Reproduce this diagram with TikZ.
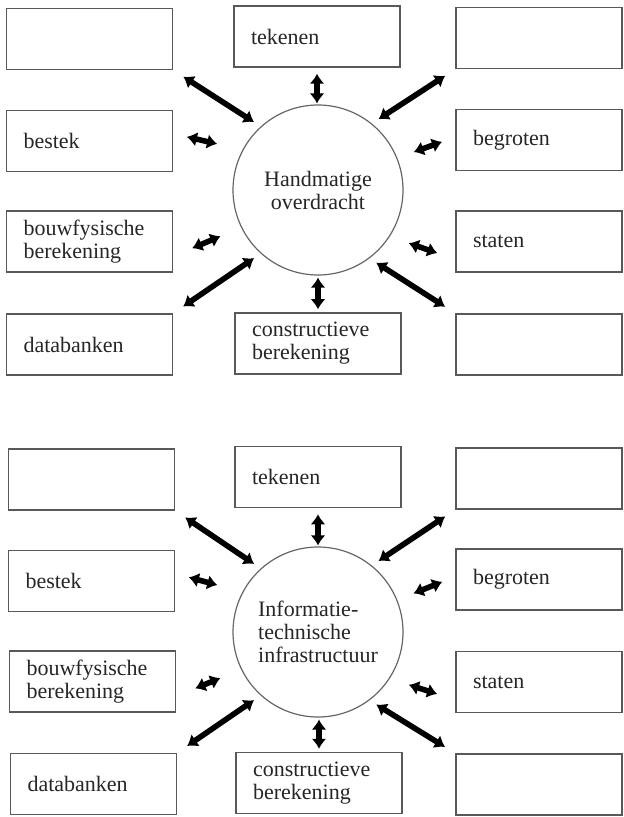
\documentclass[tikz,border=0pt]{standalone}
\usepackage{fontspec}
\setmainfont{Liberation Serif}
\usetikzlibrary{arrows.meta}

\begin{document}
\begin{tikzpicture}[x=0.5pt,y=-0.5pt,
   vak/.style={draw=black!65,line width=0.75pt,rectangle,minimum width=83pt,minimum height=30.5pt,
      text width=66pt,inner xsep=8.5pt,align=left,text=black!85,font=\fontsize{11}{11.5}\selectfont},
   rondje/.style={draw=black!60,line width=0.6pt,circle,minimum size=85pt,inner sep=0pt,
      text=black!85,font=\fontsize{11}{11.5}\selectfont},
   pijl/.style={line width=2.8pt,{Latex[length=5pt,width=7.5pt]}-{Latex[length=5pt,width=7.5pt]}},
   lang/.style={pijl,shorten <=6pt,shorten >=4pt}]
   \useasboundingbox (0,0) rectangle (623,817);
   %bovenste schema: vakken
   \node[vak] (lbA) at (89.5,39) {};
   \node[vak] (bestekA) at (89.5,141) {bestek};
   \node[vak] (bouwfA) at (89.5,241.5) {bouwfysische\\berekening};
   \node[vak] (databA) at (89.5,344.5) {databanken};
   \node[vak] (tekenenA) at (317,36.5) {tekenen};
   \node[vak] (constrA) at (318,343.5) {constructieve\\berekening};
   \node[vak] (rbA) at (539,38) {};
   \node[vak] (begrotenA) at (539,140) {begroten};
   \node[vak] (statenA) at (539,241.5) {staten};
   \node[vak] (roA) at (539,344.5) {};
   \node[rondje,align=center] (hcA) at (318,190) {Handmatige\\overdracht};
   %bovenste schema: pijlen
   \draw[lang] (lbA.south east) -- (hcA.132);
   \draw[pijl,shorten <=7pt,shorten >=13pt] (bestekA.5) -- (hcA.152);
   \draw[pijl,shorten <=3pt,shorten >=0.5pt] (tekenenA.south) -- (tekenenA.south |- hcA.north);
   \draw[lang] (rbA.south west) -- (hcA.51);
   \draw[pijl,shorten <=7pt,shorten >=8.7pt] (begrotenA.178) -- (hcA.22);
   \draw[pijl,shorten <=10.3pt,shorten >=11.2pt] (bouwfA.-10) -- (hcA.206);
   \draw[lang] (databA.north east) -- (hcA.228);
   \draw[pijl,shorten <=1.5pt,shorten >=1pt] (constrA.north) -- (constrA.north |- hcA.south);
   \draw[pijl,shorten <=9.5pt,shorten >=10pt] (statenA.192) -- (hcA.327);
   \draw[lang] (roA.north west) -- (hcA.307);
   %onderste schema: vakken
   \node[vak] (lbB) at (91.5,479.5) {};
   \node[vak] (bestekB) at (91.5,581) {bestek};
   \node[vak] (bouwfB) at (92.5,681.5) {bouwfysische\\berekening};
   \node[vak] (databB) at (93.5,784) {databanken};
   \node[vak] (tekenenB) at (318,477) {tekenen};
   \node[vak] (constrB) at (319,783) {constructieve\\berekening};
   \node[vak] (rbB) at (539,478.5) {};
   \node[vak] (begrotenB) at (539,579.5) {begroten};
   \node[vak] (statenB) at (539,682) {staten};
   \node[vak] (roB) at (539,784.5) {};
   \node[rondje,align=left] (hcB) at (318,632) {Informatie-\\technische\\infrastructuur};
   %onderste schema: pijlen
   \draw[lang] (lbB.south east) -- (hcB.132);
   \draw[pijl,shorten <=7pt,shorten >=13pt] (bestekB.5) -- (hcB.152);
   \draw[pijl,shorten <=3pt,shorten >=0.5pt] (tekenenB.south) -- (tekenenB.south |- hcB.north);
   \draw[lang] (rbB.south west) -- (hcB.51);
   \draw[pijl,shorten <=7pt,shorten >=8.7pt] (begrotenB.178) -- (hcB.22);
   \draw[pijl,shorten <=10.3pt,shorten >=11.2pt] (bouwfB.-10) -- (hcB.206);
   \draw[lang] (databB.north east) -- (hcB.228);
   \draw[pijl,shorten <=1.5pt,shorten >=1pt] (constrB.north) -- (constrB.north |- hcB.south);
   \draw[pijl,shorten <=9.5pt,shorten >=10pt] (statenB.192) -- (hcB.327);
   \draw[lang] (roB.north west) -- (hcB.307);
\end{tikzpicture}
\end{document}
